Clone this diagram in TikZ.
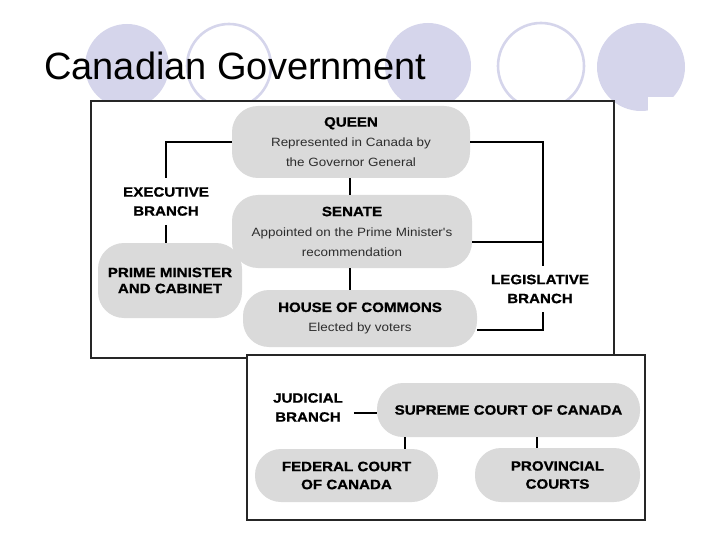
\documentclass[tikz,border=0pt]{standalone}
\usepackage{fontspec}
\setmainfont{Liberation Sans}
\newfontfamily\hb[FakeStretch=1.12,FakeBold=1]{Liberation Sans Bold}
\newfontfamily\rg[FakeStretch=1.12]{Liberation Sans}
\definecolor{lav}{RGB}{213,213,235}
\definecolor{pillgray}{RGB}{218,218,218}
\definecolor{subtxt}{RGB}{45,45,45}
\newcommand{\subline}[1]{{\rg\fontsize{12}{20}\selectfont\color{subtxt}#1}}
\tikzset{
  pill/.style={fill=pillgray, rounded corners=26pt, align=center, inner sep=0pt},
  head/.style={font=\hb\fontsize{13.5}{20}\selectfont},
  branch/.style={align=center, font=\hb\fontsize{13.5}{19}\selectfont, inner sep=0pt, outer ysep=9pt},
  conn/.style={draw=black, line width=1.8pt},
  thin conn/.style={draw=black, line width=1.3pt},
  frame/.style={draw=black!85, line width=1.1pt, fill=white}
}
\begin{document}
\begin{tikzpicture}[x=1pt,y=-1pt]
\useasboundingbox (0,0) rectangle (720,540);
% decorative circles
\fill[lav] (127,66) circle (42pt);
\draw[lav, line width=2.6pt] (229,66) circle (42pt);
\fill[lav] (428,66) circle (43pt);
\draw[lav, line width=2.6pt] (541,66) circle (43pt);
\fill[lav] (641,67) circle (44pt);
\fill[white] (648,97) rectangle (700,118);
% title
\node[anchor=base west, inner sep=0pt, font=\fontsize{38}{40}\selectfont] (title) at (44,80) {Canadian Government};
% frames
\draw[frame] (91,101) rectangle (614,358);
\draw[frame] (247,355) rectangle (645,520);
% top box nodes
\node[pill, head, minimum width=238pt, minimum height=72pt] (queen) at (351,142)
  {QUEEN\\\subline{Represented in Canada by}\\\subline{the Governor General}};
\node[pill, head, minimum width=240pt, minimum height=73pt] (senate) at (352,231.5)
  {SENATE\\\subline{Appointed on the Prime Minister's}\\\subline{recommendation}};
\node[pill, head, minimum width=234pt, minimum height=57pt] (house) at (360,318.5)
  {HOUSE OF COMMONS\\\subline{Elected by voters}};
\node[pill, minimum width=144pt, minimum height=75pt, font=\hb\fontsize{13.5}{16}\selectfont] (pm) at (170,280.5)
  {PRIME MINISTER\\AND CABINET};
\node[branch] (exec) at (166,201.5) {EXECUTIVE\\BRANCH};
\node[branch] (leg) at (540,289) {LEGISLATIVE\\BRANCH};
\coordinate (sj) at (543,242);
\coordinate (hj) at (543,330);
% connectors top
\draw[conn] (queen.west) -| (exec.north);
\draw[conn] (exec.south) -- (exec.south |- pm.north);
\draw[conn] (queen.east) -| (hj |- leg.north);
\draw[conn] (senate.east |- sj) -- (sj);
\draw[conn] (hj |- leg.south) -- (hj) -- (house.east |- hj);
\draw[thin conn] (queen.south -| 350,0) -- (senate.north -| 350,0);
\draw[thin conn] (senate.south -| 350,0) -- (house.north -| 350,0);
% bottom box nodes
\node[pill, head, minimum width=263pt, minimum height=54pt] (supreme) at (508.5,410) {SUPREME COURT OF CANADA};
\node[pill, head, minimum width=183pt, minimum height=53pt, font=\hb\fontsize{13.5}{18}\selectfont] (federal) at (346.5,475.5) {FEDERAL COURT\\OF CANADA};
\node[pill, head, minimum width=165pt, minimum height=54pt, font=\hb\fontsize{13.5}{18}\selectfont] (prov) at (557.5,475) {PROVINCIAL\\COURTS};
\node[branch, outer xsep=11pt] (jud) at (308,407.5) {JUDICIAL\\BRANCH};
\coordinate (fc) at (405,0);
\coordinate (pc) at (537,0);
\draw[conn] (jud.east |- 0,413) -- (supreme.west |- 0,413);
\draw[thin conn] (supreme.south -| fc) -- (federal.north -| fc);
\draw[thin conn] (supreme.south -| pc) -- (prov.north -| pc);
\end{tikzpicture}
\end{document}
